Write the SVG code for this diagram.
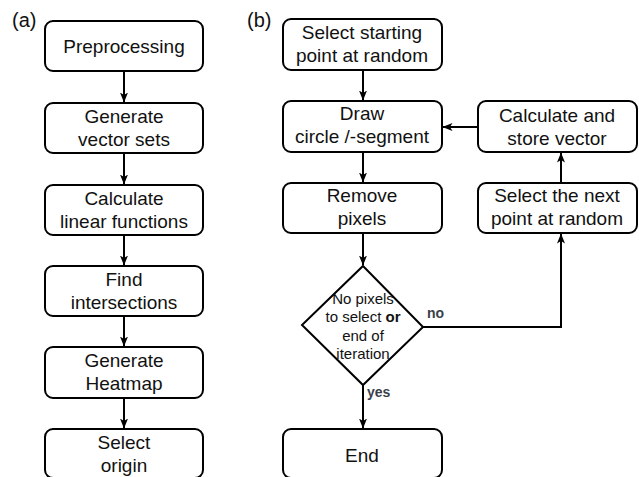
<svg xmlns="http://www.w3.org/2000/svg" width="639" height="477" viewBox="0 0 639 477">
<defs>
<style>
.box{fill:#fff;stroke:#000;stroke-width:2}
.t{font-family:"Liberation Sans",Arial,sans-serif;font-size:19px;fill:#111;text-anchor:middle}
.d{font-family:"Liberation Sans",Arial,sans-serif;font-size:15px;fill:#111;text-anchor:middle}
.lab{font-family:"Liberation Sans",Arial,sans-serif;font-size:20px;fill:#111}
.yn{font-family:"Liberation Sans",Arial,sans-serif;font-size:14px;font-weight:bold;fill:#3a3f4a}
.c{fill:none;stroke:#000;stroke-width:2}
</style>
<marker id="ah" viewBox="0 0 10 8" refX="9.5" refY="4" markerWidth="10" markerHeight="8" markerUnits="userSpaceOnUse" orient="auto">
<path d="M0,0 L10,4 L0,8 L2.5,4 z" fill="#000"/>
</marker>
</defs>
<rect width="639" height="477" fill="#fff"/>
<text class="lab" x="12" y="27">(a)</text>
<text class="lab" x="247" y="27">(b)</text>
<g id="connectors">
<path class="c" d="M124,71 V102" marker-end="url(#ah)"/>
<path class="c" d="M124,153 V184" marker-end="url(#ah)"/>
<path class="c" d="M124,235 V265" marker-end="url(#ah)"/>
<path class="c" d="M124,316 V346" marker-end="url(#ah)"/>
<path class="c" d="M124,398 V428" marker-end="url(#ah)"/>
<path class="c" d="M363,70 V100" marker-end="url(#ah)"/>
<path class="c" d="M363,152 V182" marker-end="url(#ah)"/>
<path class="c" d="M363,233 V265" marker-end="url(#ah)"/>
<path class="c" d="M363,385 V428" marker-end="url(#ah)"/>
<path class="c" d="M423,327 H561 V234" marker-end="url(#ah)"/>
<path class="c" d="M561,183 V153" marker-end="url(#ah)"/>
<path class="c" d="M478,127 H443" marker-end="url(#ah)"/>
<text class="yn" x="427" y="318">no</text>
<text class="yn" x="367" y="397">yes</text>
</g>
<g id="a1"><rect class="box" x="45" y="21" width="158" height="50" rx="8"/><text class="t" x="124" y="52.5">Preprocessing</text></g>
<g id="a2"><rect class="box" x="45" y="103" width="158" height="50" rx="8"/><text class="t" x="124" y="123">Generate</text><text class="t" x="124" y="146">vector sets</text></g>
<g id="a3"><rect class="box" x="45" y="185" width="158" height="50" rx="8"/><text class="t" x="124" y="205">Calculate</text><text class="t" x="124" y="228">linear functions</text></g>
<g id="a4"><rect class="box" x="45" y="266" width="158" height="50" rx="8"/><text class="t" x="124" y="286">Find</text><text class="t" x="124" y="309">intersections</text></g>
<g id="a5"><rect class="box" x="45" y="347" width="158" height="51" rx="8"/><text class="t" x="124" y="367">Generate</text><text class="t" x="124" y="390">Heatmap</text></g>
<g id="a6"><rect class="box" x="45" y="429" width="158" height="49" rx="8"/><text class="t" x="124" y="449">Select</text><text class="t" x="124" y="472">origin</text></g>
<g id="b1"><rect class="box" x="283" y="19" width="159" height="51" rx="8"/><text class="t" x="362" y="39">Select starting</text><text class="t" x="362" y="62">point at random</text></g>
<g id="b2"><rect class="box" x="283" y="101" width="159" height="51" rx="8"/><text class="t" x="362" y="120">Draw</text><text class="t" x="362" y="143">circle /-segment</text></g>
<g id="b3"><rect class="box" x="283" y="183" width="159" height="50" rx="8"/><text class="t" x="362" y="202">Remove</text><text class="t" x="362" y="225">pixels</text></g>
<g id="b4"><rect class="box" x="478" y="101" width="159" height="51" rx="8"/><text class="t" x="557" y="122">Calculate and</text><text class="t" x="557" y="145">store vector</text></g>
<g id="b5"><rect class="box" x="478" y="183" width="159" height="50" rx="8"/><text class="t" x="557" y="202">Select the next</text><text class="t" x="557" y="225">point at random</text></g>
<g id="dec"><path class="box" d="M363,266 L423,327 L363,385 L302,325 Z"/>
<text class="d" x="363" y="304">No pixels</text>
<text class="d" x="363" y="322">to select <tspan font-weight="bold">or</tspan></text>
<text class="d" x="363" y="341">end of</text>
<text class="d" x="363" y="359">iteration</text></g>
<g id="b6"><rect class="box" x="283" y="429" width="159" height="49" rx="8"/><text class="t" x="362" y="462">End</text></g>
</svg>
